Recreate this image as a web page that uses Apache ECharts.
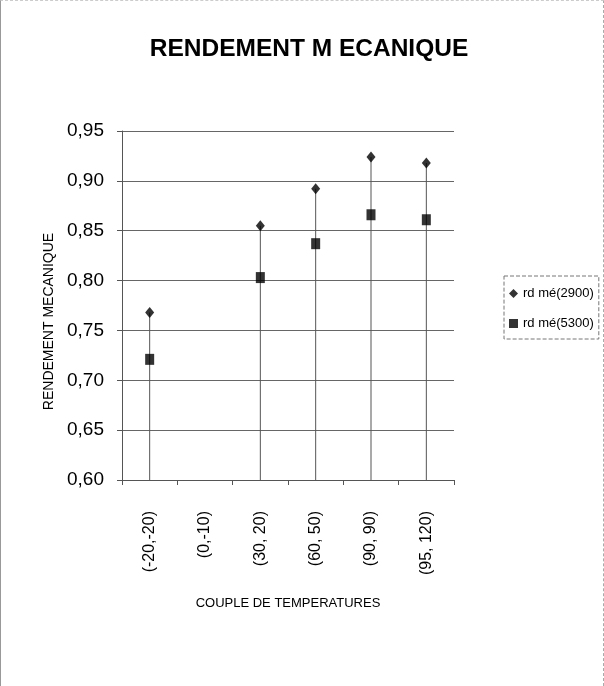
<!DOCTYPE html>
<html>
<head>
<meta charset="utf-8">
<script src="https://cdn.jsdelivr.net/npm/echarts@6/dist/echarts.min.js"></script>
<style>
  html, body { margin: 0; padding: 0; background: #fff; }
  #chart { width: 604px; height: 686px; box-sizing: border-box; border-left: 1px solid #999; border-top: 1px dashed #ccc; border-right: 1px dashed #aaa; }
</style>
</head>
<body>
<div id="chart"></div>
<script>
  const categories = ["(-20,-20)", "(0,-10)", "(30, 20)", "(60, 50)", "(90, 90)", "(95, 120)"];
  const rd2900 = [0.768, null, 0.855, 0.892, 0.924, 0.918];
  const rd5300 = [0.721, null, 0.803, 0.837, 0.866, 0.861];
  // drop lines go from the top marker down to the axis
  const dropLines = rd2900;

  const chart = echarts.init(document.getElementById("chart"));
  const font = "Liberation Sans, Arial, sans-serif";

  chart.setOption({
    animation: false,
    title: {
      text: "RENDEMENT M ECANIQUE",
      left: 303,
      top: 31,
      textAlign: "center",
      textStyle: { fontFamily: font, fontWeight: "bold", fontSize: 24.5, color: "#000" },
    },
    grid: { left: 121, right: 149, top: 130, bottom: 206 },
    legend: {
      orient: "vertical",
      left: 503,
      top: 275,
      itemWidth: 9,
      itemHeight: 9,
      itemGap: 17,
      padding: [11, 5, 9, 5],
      borderColor: "#777",
      borderWidth: 1,
      borderType: "dashed",
      textStyle: { fontFamily: font, fontSize: 13, color: "#000" },
      data: [
        { name: "rd mé(2900)", icon: "diamond" },
        { name: "rd mé(5300)", icon: "rect" },
      ],
    },
    xAxis: {
      type: "category",
      data: categories,
      boundaryGap: true,
      name: "COUPLE DE TEMPERATURES",
      nameLocation: "middle",
      nameGap: 117,
      nameTextStyle: { fontFamily: font, fontSize: 13, color: "#000" },
      axisLine: { lineStyle: { color: "#555" } },
      axisTick: { show: true, alignWithLabel: false, length: 5, lineStyle: { color: "#555" } },
      axisLabel: { rotate: 90, margin: 31, fontFamily: font, fontSize: 16, color: "#000", interval: 0 },
    },
    yAxis: {
      type: "value",
      min: 0.6,
      max: 0.95,
      interval: 0.05,
      name: "RENDEMENT MECANIQUE",
      nameLocation: "middle",
      nameGap: 64,
      nameTextStyle: { fontFamily: font, fontSize: 14, color: "#000", padding: [0, 32, 0, 0] },
      axisLine: { show: true, lineStyle: { color: "#555" } },
      axisTick: { show: true, length: 5, lineStyle: { color: "#555" } },
      splitLine: { lineStyle: { color: "#666", width: 1 } },
      axisLabel: {
        margin: 18,
        fontFamily: font,
        fontSize: 19,
        color: "#000",
        formatter: (v) => v.toFixed(2).replace(".", ","),
      },
    },
    series: [
      {
        name: "drop",
        type: "bar",
        data: dropLines,
        barWidth: 1,
        itemStyle: { color: "#555" },
        silent: true,
        z: 1,
      },
      {
        name: "rd mé(2900)",
        type: "scatter",
        data: rd2900,
        symbol: "diamond",
        symbolSize: [9, 11],
        itemStyle: { color: "#000" },
        z: 3,
      },
      {
        name: "rd mé(5300)",
        type: "scatter",
        data: rd5300,
        symbol: "rect",
        symbolSize: [9, 11],
        itemStyle: { color: "#000" },
        z: 3,
      },
    ],
  });
</script>
</body>
</html>
